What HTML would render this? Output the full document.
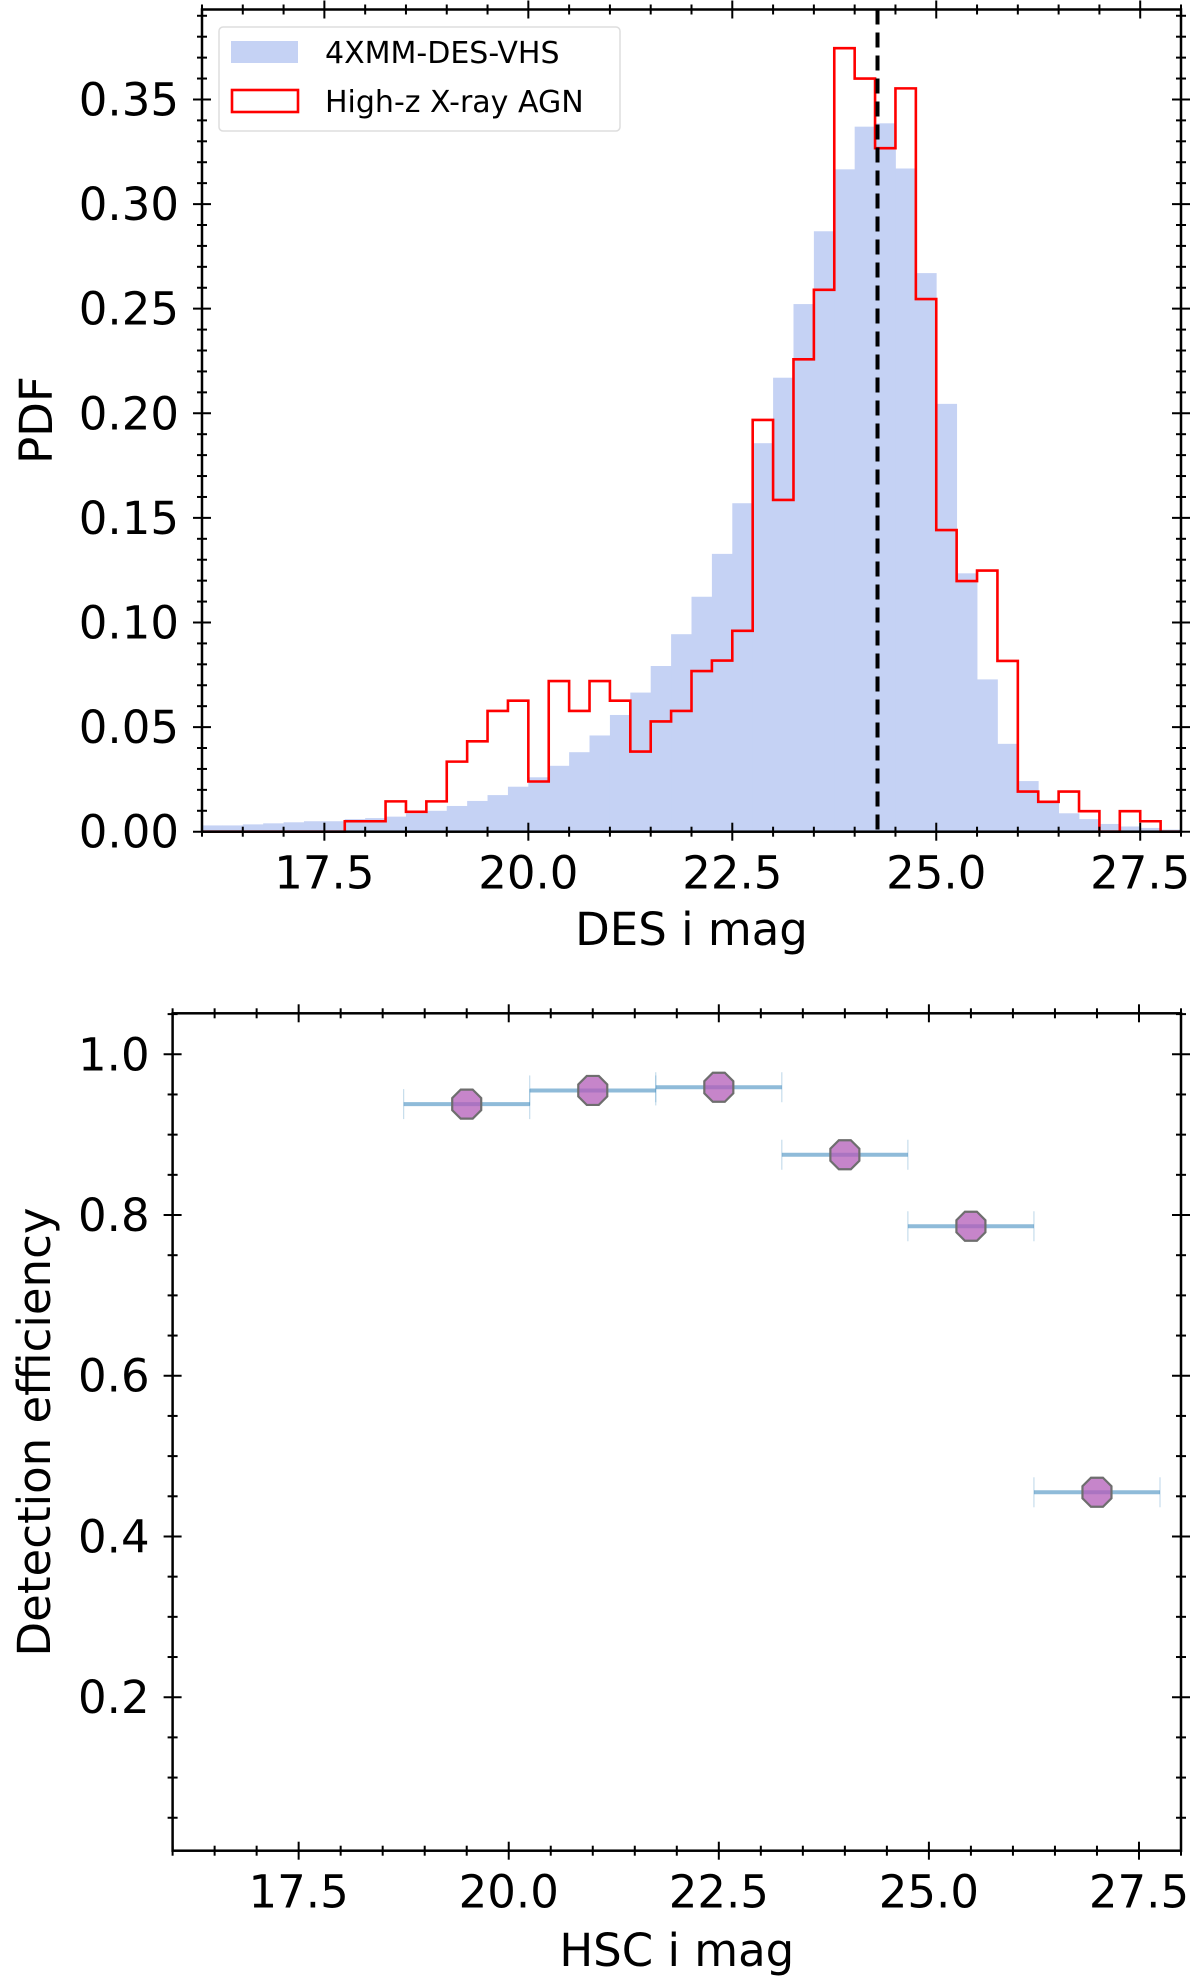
<!DOCTYPE html>
<html><head><meta charset="utf-8"><style>
html,body{margin:0;padding:0;background:#fff}
svg{display:block}
text{font-family:"DejaVu Sans","Liberation Sans",sans-serif;fill:#000}
</style></head><body>
<svg id="fig" width="1200" height="1978" viewBox="0 0 1200 1978" xmlns="http://www.w3.org/2000/svg"></svg>
<script>
// ---- Top panel data (bins of 0.25 mag starting at 16.0) ----
const binStart = 16.0;
const binWidth = 0.25;
const surveyPdf = [0.003,0.003,0.0035,0.004,0.0045,0.005,0.005,0.006,0.0065,0.0072,0.0088,0.010,0.0123,0.0147,0.0175,0.0215,0.026,0.0315,0.038,0.046,0.0558,0.0665,0.0792,0.0944,0.1123,0.1328,0.157,0.1857,0.217,0.2522,0.287,0.3166,0.337,0.3386,0.317,0.267,0.2045,0.1235,0.0728,0.042,0.0242,0.0139,0.0088,0.006,0.0037,0.0025,0.0018,0.001];
const agnPdf = [0,0,0,0,0,0,0,0.005,0.005,0.0145,0.0095,0.0145,0.0335,0.0432,0.0577,0.0626,0.024,0.072,0.0577,0.072,0.0626,0.0383,0.0527,0.0577,0.0768,0.0818,0.096,0.1968,0.1586,0.2258,0.259,0.3745,0.360,0.3267,0.3553,0.2546,0.1442,0.1198,0.1248,0.0816,0.0192,0.0143,0.0192,0.0098,0,0.0098,0.005,0];
const medianMag = 24.28;
const topYTicks = [0.00,0.05,0.10,0.15,0.20,0.25,0.30,0.35];
const topYLabels = ["0.00","0.05","0.10","0.15","0.20","0.25","0.30","0.35"];
const xTicks = [17.5,20.0,22.5,25.0,27.5];
const xLabels = ["17.5","20.0","22.5","25.0","27.5"];
// ---- Bottom panel data ----
const effMag = [19.5,21.0,22.5,24.0,25.5,27.0];
const effHalfWidth = [0.75,0.75,0.75,0.75,0.75,0.75];
const effValue = [0.938,0.955,0.959,0.875,0.786,0.455];
const botYTicks = [0.2,0.4,0.6,0.8,1.0];
const botYLabels = ["0.2","0.4","0.6","0.8","1.0"];

const NS="http://www.w3.org/2000/svg";
const svg=document.getElementById('fig');
function mk(tag,attrs,parent){const e=document.createElementNS(NS,tag);for(const k in attrs)e.setAttribute(k,attrs[k]);(parent||svg).appendChild(e);return e;}

function axes(box,xmin,xmax,ymin,ymax){
  const sx=v=>box.x0+(v-xmin)/(xmax-xmin)*(box.x1-box.x0);
  const sy=v=>box.y1-(v-ymin)/(ymax-ymin)*(box.y1-box.y0);
  return {sx,sy};
}
function drawFrame(g,box,sx,sy,xmin,xmax,ymin,ymax,xMinorStep,yMinorStep,yMajor,yLab,name){
  const t=mk('g',{},g);
  
  
  // x ticks
  for(let v=Math.ceil(xmin/xMinorStep-1e-6)*xMinorStep; v<=xmax+1e-6; v+=xMinorStep){
    const x=sx(v); const major=xTicks.some(m=>Math.abs(m-v)<1e-6);
    const L=major?9:5;
    mk('line',{x1:x,x2:x,y1:box.y1-L,y2:box.y1+L,stroke:'#000','stroke-width':2},t);
    mk('line',{x1:x,x2:x,y1:box.y0-L,y2:box.y0+L,stroke:'#000','stroke-width':2},t);
  }
  for(let v=Math.ceil(ymin/yMinorStep-1e-6)*yMinorStep; v<=ymax+1e-6; v+=yMinorStep){
    const y=sy(v); const major=yMajor.some(m=>Math.abs(m-v)<1e-6);
    const L=major?9:5;
    mk('line',{x1:box.x0-L,x2:box.x0+L,y1:y,y2:y,stroke:'#000','stroke-width':2},t);
    mk('line',{x1:box.x1-L,x2:box.x1+L,y1:y,y2:y,stroke:'#000','stroke-width':2},t);
  }
  const fr=mk('rect',{x:box.x0,y:box.y0,width:box.x1-box.x0,height:box.y1-box.y0,fill:'none',stroke:'#000','stroke-width':2.5},g);
  
  
  xTicks.forEach((v,i)=>{
    const tx=mk('text',{x:sx(v),y:box.y1+57,'font-size':45,'text-anchor':'middle'},g);
    tx.textContent=xLabels[i];
    
    
  });
  yMajor.forEach((v,i)=>{
    const ty=mk('text',{x:box.x0-23,y:sy(v)+16,'font-size':45,'text-anchor':'end'},g);
    ty.textContent=yLab[i];
    
    
  });
}

// ================= TOP PANEL =================
const topBox={x0:202,x1:1181,y0:9.5,y1:831.7};
const gTop=mk('g',{});


const T=axes(topBox,16,28,0,0.393);
// blue bars
surveyPdf.forEach((v,i)=>{
  const a=binStart+i*binWidth;
  const r=mk('rect',{x:T.sx(a),y:T.sy(v),width:T.sx(a+binWidth)-T.sx(a)+0.4,height:T.sy(0)-T.sy(v),fill:'#c5d2f4'},gTop);
  
  
});
// red step
let d='M'+T.sx(binStart)+','+T.sy(0);
agnPdf.forEach((v,i)=>{
  const a=binStart+i*binWidth;
  d+=' L'+T.sx(a)+','+T.sy(v)+' L'+T.sx(a+binWidth)+','+T.sy(v);
});
d+=' L'+T.sx(binStart+agnPdf.length*binWidth)+','+T.sy(0);
const step=mk('path',{d:d,fill:'none',stroke:'#ff0000','stroke-width':2.6,'stroke-linejoin':'miter'},gTop);


// median
const med=mk('line',{x1:T.sx(medianMag),x2:T.sx(medianMag),y1:topBox.y0,y2:topBox.y1,stroke:'#000','stroke-width':4,'stroke-dasharray':'15,8'},gTop);


drawFrame(gTop,topBox,T.sx,T.sy,16,28,0,0.393,0.5,0.01,topYTicks,topYLabels,'top');
// legend
const lg=mk('g',{},gTop);


mk('rect',{x:219,y:27,width:401,height:104,rx:4,fill:'#fff','fill-opacity':0.85,stroke:'#dddddd','stroke-width':1.5},lg);
const lp1=mk('rect',{x:231,y:41,width:67,height:22,fill:'#c5d2f4'},lg);


const lt1=mk('text',{x:325,y:63,'font-size':30},lg);lt1.textContent='4XMM-DES-VHS';


const lp2=mk('rect',{x:232,y:90,width:66,height:22,fill:'none',stroke:'#ff0000','stroke-width':2.6},lg);


const lt2=mk('text',{x:325,y:112,'font-size':30},lg);lt2.textContent='High-z X-ray AGN';


const xt1=mk('text',{x:(topBox.x0+topBox.x1)/2,y:945,'font-size':45,'text-anchor':'middle'},gTop);xt1.textContent='DES i mag';


const yt1=mk('text',{x:0,y:0,'font-size':45,'text-anchor':'middle',transform:'translate(52,420) rotate(-90)'},gTop);yt1.textContent='PDF';



// ================= BOTTOM PANEL =================
const botBox={x0:172.6,x1:1181,y0:1013.3,y1:1850.7};
const gBot=mk('g',{});


const B=axes(botBox,16,28,0.009,1.051);
effMag.forEach((m,i)=>{
  const y=B.sy(effValue[i]);
  const xa=B.sx(m-effHalfWidth[i]), xb=B.sx(m+effHalfWidth[i]);
  const eb=mk('g',{},gBot);
  
  
  mk('line',{x1:xa,x2:xb,y1:y,y2:y,stroke:'#1f77b4','stroke-opacity':0.5,'stroke-width':4},eb);
  mk('line',{x1:xa,x2:xa,y1:y-15,y2:y+15,stroke:'#1f77b4','stroke-opacity':0.3,'stroke-width':1},eb);
  mk('line',{x1:xb,x2:xb,y1:y-15,y2:y+15,stroke:'#1f77b4','stroke-opacity':0.3,'stroke-width':1},eb);
  const cx=B.sx(m), r=14.5, k=r*0.4142;
  const pts=[[k,-r],[r,-k],[r,k],[k,r],[-k,r],[-r,k],[-r,-k],[-k,-r]].map(p=>(cx+p[0])+','+(y+p[1])).join(' ');
  const mp=mk('polygon',{points:pts,fill:'#b35cb8','fill-opacity':0.75,stroke:'#6e6e6e','stroke-width':2.2},gBot);
  
  
});
drawFrame(gBot,botBox,B.sx,B.sy,16,28,0.009,1.051,0.5,0.05,botYTicks,botYLabels,'bottom');
const xt2=mk('text',{x:(botBox.x0+botBox.x1)/2,y:1966,'font-size':45,'text-anchor':'middle'},gBot);xt2.textContent='HSC i mag';


const yt2=mk('text',{x:0,y:0,'font-size':45,'text-anchor':'middle',transform:'translate(50,1432) rotate(-90)'},gBot);yt2.textContent='Detection efficiency';


</script>
</body></html>
